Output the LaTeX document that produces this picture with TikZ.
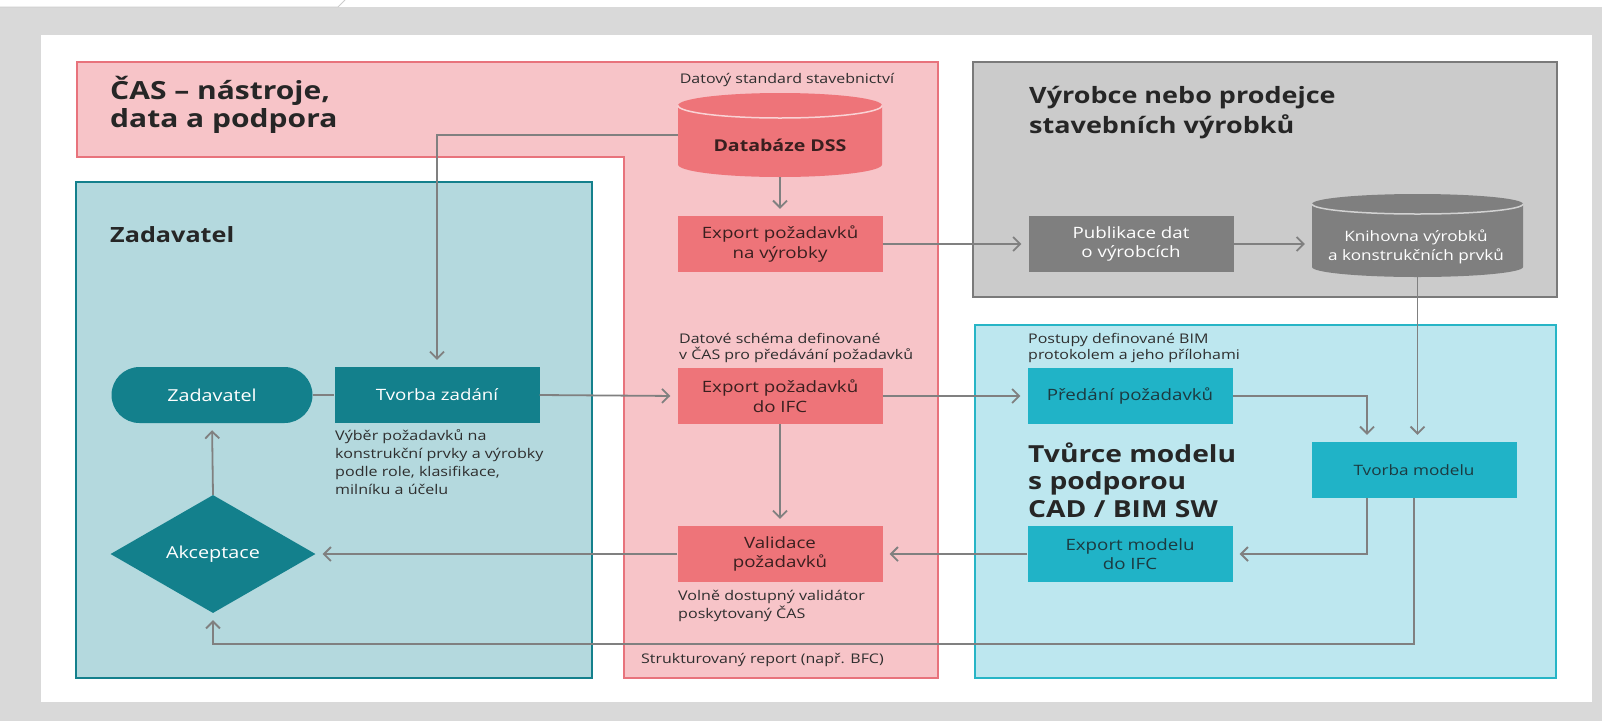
\documentclass[tikz,border=0pt]{standalone}
\usepackage{fontspec}
\setmainfont{Open Sans}[FakeStretch=1.2]
\usetikzlibrary{shapes.geometric,shapes.misc,arrows.meta,positioning,calc}

\definecolor{bggray}{HTML}{D9D9D9}
\definecolor{casfill}{HTML}{F7C4C8}
\definecolor{casline}{HTML}{E8737C}
\definecolor{casbox}{HTML}{EE7479}
\definecolor{caslight}{HTML}{F9D3D5}
\definecolor{castext}{HTML}{3A1F1F}
\definecolor{zadfill}{HTML}{B4D9DE}
\definecolor{zadline}{HTML}{14808C}
\definecolor{zadbox}{HTML}{13808C}
\definecolor{vyrfill}{HTML}{CBCBCB}
\definecolor{vyrline}{HTML}{7A7A7A}
\definecolor{vyrbox}{HTML}{7F7F7F}
\definecolor{vyrlight}{HTML}{D2D2D2}
\definecolor{tvfill}{HTML}{BDE7EF}
\definecolor{tvline}{HTML}{27B5C6}
\definecolor{tvbox}{HTML}{20B3C7}
\definecolor{tvtext}{HTML}{1C3A40}
\definecolor{linegray}{HTML}{808080}
\definecolor{notetext}{HTML}{2E2E2E}
\definecolor{titletext}{HTML}{262626}

\newcommand\boxfont{\fontsize{15.6}{19.5}\selectfont}
\newcommand\notefont{\fontsize{13.3}{16.5}\selectfont}
\newcommand\descfont{\fontsize{13.4}{18}\selectfont}
\newcommand\titlefont{\fontsize{22.5}{30}\selectfont\bfseries}

\begin{document}
\begin{tikzpicture}[x=1pt,y=-1pt,
    region/.style={line width=2.5pt},
    box/.style={rectangle,minimum width=205pt,minimum height=56pt,inner sep=2pt,align=center,font=\boxfont},
    pinkbox/.style={box,fill=casbox,text=castext},
    tealbox/.style={box,fill=zadbox,text=white,font=\fontsize{16.5}{20}\selectfont},
    graybox/.style={box,fill=vyrbox,text=white},
    cyanbox/.style={box,fill=tvbox,text=tvtext},
    dbshape/.style={rectangle,inner sep=0pt},
    dbtext/.style={inner sep=0pt,align=center},
    conn/.style={draw=linegray,line width=1.8pt,-{Straight Barb[length=7pt,width=14pt]},shorten >=7pt},
    plain/.style={draw=linegray,line width=1.8pt},
    note/.style={font=\notefont,text=notetext,align=left,inner sep=0pt},
    desc/.style={font=\descfont,text=notetext,align=left,inner sep=0pt},
    title/.style={font=\titlefont,text=titletext,align=left,inner sep=0pt}]

    \useasboundingbox (0,0) rectangle (1602,721);
    \fill[bggray] (0,0) rectangle (1602,721);
    \fill[white] (0,0) rectangle (1602,7);
    \draw[linegray!40,line width=0.8pt] (0,7) -- (338,7) -- (345,0);
    \fill[white] (41,35) rectangle (1592,702);

    \filldraw[region,fill=casfill,draw=casline]
        (77,62) -- (938,62) -- (938,678) -- (624,678) -- (624,157) -- (77,157) -- cycle;
    \filldraw[region,fill=zadfill,draw=zadline] (76,182) rectangle (592,678);
    \filldraw[region,fill=vyrfill,draw=vyrline] (973,62) rectangle (1557,297);
    \filldraw[region,fill=tvfill,draw=tvline] (975,325) rectangle (1556,678);

    \node[title,font=\fontsize{25}{28}\selectfont\bfseries,anchor=west] (castitle) at (110,105) {ČAS – nástroje,\\data a podpora};
    \node[title,font=\fontsize{21}{26}\selectfont\bfseries,anchor=west] (zadtitle) at (110,235) {Zadavatel};
    \node[title,anchor=west] (vyrtitle) at (1029,113) {Výrobce nebo prodejce\\stavebních výrobků};
    \node[title,font=\fontsize{23.5}{27.5}\selectfont\bfseries,anchor=west] (tvtitle) at (1028,480) {Tvůrce modelu\\s podporou\\CAD / BIM SW};

    % databases
    \fill[casbox] (678,105.5) -- (678,164.5) arc[start angle=180,end angle=360,x radius=102pt,y radius=12.5pt]
        -- (882,105.5) arc[start angle=0,end angle=180,x radius=102pt,y radius=12.5pt] -- cycle;
    \draw[caslight,line width=1.5pt] (678,105.5) arc[start angle=180,end angle=360,x radius=102pt,y radius=12.5pt];
    \fill[vyrbox] (1312,204) -- (1312,267) arc[start angle=180,end angle=360,x radius=105.5pt,y radius=10pt]
        -- (1523,204) arc[start angle=0,end angle=180,x radius=105.5pt,y radius=10pt] -- cycle;
    \draw[vyrlight,line width=1.5pt] (1312,204) arc[start angle=180,end angle=360,x radius=105.5pt,y radius=10pt];

    \node[dbshape,minimum width=204pt,minimum height=84pt] (dss) at (780,135) {};
    \node[dbtext,text=castext,font=\fontsize{16.3}{19}\selectfont\bfseries] (dsstext) at (780,145) {Databáze DSS};
    \node[dbshape,minimum width=211pt,minimum height=83pt] (knih) at (1417.5,235.5) {};
    \node[dbtext,text=white,font=\fontsize{14.3}{19.5}\selectfont] (knihtext) at (1416,247) {Knihovna výrobků\\a konstrukčních prvků};

    \node[pinkbox] (expv) at (780,244) {Export požadavků\\na výrobky};
    \node[graybox] (pub) at (1131,244) {Publikace dat\\o výrobcích};
    \node[tealbox,rounded rectangle] (zad) at (212,395) {Zadavatel};
    \node[tealbox,font=\boxfont] (tvz) at (437,395) {Tvorba zadání};
    \node[pinkbox] (expifc) at (780,396) {Export požadavků\\do IFC};
    \node[cyanbox] (pred) at (1130,396) {Předání požadavků};
    \node[cyanbox,font=\fontsize{14.3}{18}\selectfont] (tvm) at (1414,470) {Tvorba modelu};
    \node[cyanbox] (expm) at (1130,554) {Export modelu\\do IFC};
    \node[pinkbox] (val) at (780,554) {Validace\\požadavků};
    \node[diamond,fill=zadbox,text=white,font=\fontsize{16.5}{20}\selectfont,minimum width=205pt,minimum height=118pt,inner sep=0pt] (akc) at (213,554) {Akceptace};

    \node[note] (dsslabel) at (787,80) {Datový standard stavebnictví};
    \node[note,anchor=west] (ifclabel) at (679,348) {Datové schéma definované\\v ČAS pro předávání požadavků};
    \node[note,anchor=west] (predlabel) at (1028,348) {Postupy definované BIM\\protokolem a jeho přílohami};
    \node[desc,anchor=north west] (tvzlabel) at (335,429) {Výběr požadavků na\\konstrukční prvky a výrobky\\podle role, klasifikace,\\milníku a účelu};
    \node[desc,anchor=west] (vallabel) at (678,606) {Volně dostupný validátor\\poskytovaný ČAS};
    \node[note,anchor=west] (replabel) at (641,660) {Strukturovaný report (např. BFC)};

    \coordinate (retline) at (0,644);

    \draw[conn] (dss.south) -- (expv.north);
    \draw[conn] (expv.east) -- (pub.west);
    \draw[conn] (pub.east) -- (pub.east -| knih.west);
    \draw[conn] (knih.south) -- (knih.south |- tvm.north);
    \draw[conn] (dss.west) -| (tvz.north);
    \draw[plain] (zad.east) -- (tvz.west);
    \draw[conn] (tvz.east) -- (expifc.west);
    \draw[conn] (expifc.east) -- (pred.west);
    \draw[conn] (expifc.south) -- (val.north);
    \draw[conn] (pred.east) -| ([xshift=-47pt]tvm.north);
    \draw[conn] ([xshift=-47pt]tvm.south) |- (expm.east);
    \draw[conn] (expm.west) -- (val.east);
    \draw[conn] (val.west) -- (akc.east);
    \draw[conn] (akc.north) -- (zad.south);
    \draw[conn] (tvm.south) -- (tvm.south |- retline) -| (akc.south);
\end{tikzpicture}
\end{document}
